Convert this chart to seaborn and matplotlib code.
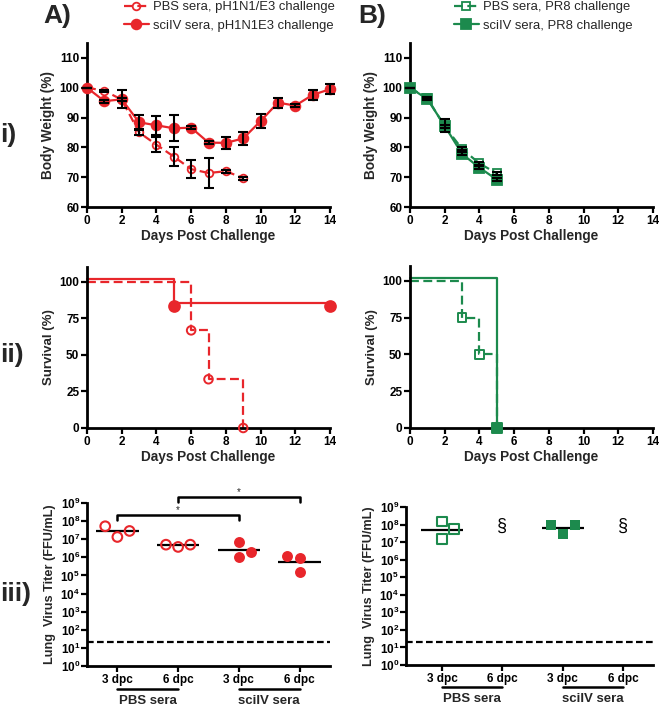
import numpy as np
import matplotlib
matplotlib.use("Agg")
import matplotlib.pyplot as plt
import matplotlib.transforms as mtransforms
import seaborn as sns

# ---- data ----
RED = "#e8262b"
GREEN = "#1c8a4d"

# body weight (% of day 0), mean and SEM
days_a_pbs = [0, 1, 2, 3, 4, 5, 6, 7, 8, 9]
bw_a_pbs = [100, 99.0, 96.0, 85.0, 80.9, 76.9, 72.7, 71.4, 72.0, 69.7]
sem_a_pbs = [0, 0.4, 0.5, 1.0, 2.6, 3.2, 3.0, 5.0, 0.5, 0.5]

days_a_sci = [0, 1, 2, 3, 4, 5, 6, 7, 8, 9, 10, 11, 12, 13, 14]
bw_a_sci = [100, 95.5, 96.1, 88.4, 87.4, 86.4, 86.6, 81.6, 81.5, 83.0, 88.8, 95.0, 94.0, 97.6, 99.5]
sem_a_sci = [0, 0.5, 3.0, 2.6, 3.2, 4.3, 0.5, 0.5, 2.0, 2.2, 2.4, 1.7, 0.5, 1.8, 1.6]

days_b = [0, 1, 2, 3, 4, 5]
bw_b_pbs = [100, 96.5, 87.0, 79.5, 74.6, 71.3]
sem_b_pbs = [0, 0.3, 0.5, 0.5, 0.5, 0.5]
bw_b_sci = [100, 96.2, 87.2, 77.8, 73.2, 69.2]
sem_b_sci = [0, 0.3, 2.2, 0.5, 0.5, 0.5]

# survival (%)
surv_t_a_pbs = [0, 6, 7, 9]
surv_a_pbs = [100, 66.7, 33.3, 0]
surv_t_a_sci = [0, 5, 14]
surv_a_sci = [100, 83.3, 83.3]
surv_t_b_pbs = [0, 3, 4, 5]
surv_b_pbs = [100, 75, 50, 0]
surv_t_b_sci = [0, 5]
surv_b_sci = [100, 0]

# lung titers (FFU/mL)
titer_cats = ["3 dpc", "6 dpc", "3 dpc", "6 dpc"]
titer_groups = ["PBS sera", "sciIV sera"]
titer_a = [[5.2e7, 1.33e7, 2.86e7], [5.0e6, 3.75e6, 5.0e6],
           [6.8e6, 1.05e6, 2.0e6], [1.15e6, 9.3e5, 1.55e5]]
titer_b = [[1.5e8, 1.5e7, 5.6e7], [], [9.8e7, 2.9e7, 9.4e7], []]
detect_limit = 20

legend_a = ["PBS sera, pH1N1/E3 challenge", "sciIV sera, pH1N1E3 challenge"]
legend_b = ["PBS sera, PR8 challenge", "sciIV sera, PR8 challenge"]

# point spread inside each titer column (layout only)
jitter_a = [[-0.2, 0, 0.2], [-0.2, 0, 0.2], [0, 0, 0.2], [-0.2, 0, 0]]
jitter_b = [[0, 0, 0.2], [], [-0.2, 0, 0.2], []]

# ---- style ----
sns.set_theme(style="ticks")
plt.rcParams["font.family"] = ["Liberation Sans", "DejaVu Sans"]
plt.rcParams["font.weight"] = "bold"
plt.rcParams["axes.labelweight"] = "bold"
plt.rcParams["mathtext.fontset"] = "custom"
plt.rcParams["mathtext.rm"] = "Liberation Sans:bold"
plt.rcParams["mathtext.bf"] = "Liberation Sans:bold"
plt.rcParams["mathtext.default"] = "bf"

fig = plt.figure(figsize=(6.6, 7.08), dpi=100)
W, H = 660, 708


def add_ax(left, top, right, bottom):
    return fig.add_axes([left / W, 1 - bottom / H, (right - left) / W, (bottom - top) / H])


def style_ax(ax):
    sns.despine(ax=ax)
    for s in ["left", "bottom"]:
        ax.spines[s].set_linewidth(2)
        ax.spines[s].set_color("black")
    ax.tick_params(direction="out", length=4, width=1.6, labelsize=8.5, pad=1.5, colors="black")
    for lab in ax.get_xticklabels() + ax.get_yticklabels():
        lab.set_fontweight("bold")


def weight_panel(ax, series):
    for days, vals, sem, color, marker, filled, ls, lab in series:
        mfc = color if filled else "none"
        ms = 7 if filled else 5.5
        sns.lineplot(x=days, y=vals, ax=ax, color=color, lw=1.6, linestyle=ls,
                     marker=marker, markersize=ms, markerfacecolor=mfc,
                     markeredgecolor=color, markeredgewidth=1.3, label=lab,
                     clip_on=False, zorder=3, errorbar=None)
        ax.errorbar(days, vals, yerr=sem, fmt="none", ecolor="black",
                    elinewidth=1.5, capsize=3.5, capthick=1.5, zorder=4, clip_on=False)
    ax.set_xlim(0, 14)
    ax.set_ylim(60, 115)
    ax.set_xticks(range(0, 15, 2))
    ax.set_yticks(range(60, 111, 10))
    ax.set_xlabel("Days Post Challenge", fontsize=9.8, labelpad=2)
    ax.set_ylabel("Body Weight (%)", fontsize=9.8, labelpad=3)
    style_ax(ax)


def survival_panel(ax, series):
    for t, s, color, marker, filled, ls, lift in series:
        sns.lineplot(x=t, y=s, ax=ax, color=color, lw=1.6, linestyle=ls,
                     drawstyle="steps-post", clip_on=False, errorbar=None)
        line = ax.lines[-1]
        line.set_transform(mtransforms.offset_copy(ax.transData, fig=fig, x=0, y=lift, units="dots"))
        sns.scatterplot(x=t[1:], y=s[1:], ax=ax, marker=marker, s=60 if filled else 38,
                        color=color, facecolor=color if filled else "none",
                        edgecolor=color, linewidth=1.4, zorder=4, clip_on=False)
    ax.set_xlim(0, 14)
    ax.set_ylim(0, 110)
    ax.set_xticks(range(0, 15, 2))
    ax.set_yticks([0, 25, 50, 75, 100])
    ax.set_xlabel("Days Post Challenge", fontsize=9.8, labelpad=2)
    ax.set_ylabel("Survival (%)", fontsize=9.5, labelpad=3)
    style_ax(ax)


def titer_panel(ax, groups, jitter, color, marker, filled_from, xleft):
    for i, vals in enumerate(groups):
        filled = i >= filled_from
        if len(vals) == 0:
            ax.text(i, 10 ** 7.9, "§", ha="center", va="center", fontsize=13,
                    fontweight="normal", color="black")
            continue
        xs = [i + j for j in jitter[i]]
        sns.scatterplot(x=xs, y=vals, ax=ax, marker=marker, s=62 if filled else 48,
                        color=color, facecolor=color if filled else "none",
                        edgecolor=color, linewidth=0 if filled else 1.5, zorder=3, clip_on=False)
        gm = 10 ** np.mean(np.log10(vals))
        ax.hlines(gm, i - 0.35, i + 0.35, color="black", lw=1.6, zorder=2)
    ax.axhline(detect_limit, color="black", lw=1.6, ls=(0, (3, 1.5)))
    ax.set_yscale("log")
    ax.set_ylim(1, 1e9)
    ax.set_xlim(xleft, 3.5)
    ax.set_yticks([10 ** k for k in range(10)])
    ax.set_yticklabels([f"$10^{{{k}}}$" for k in range(10)])
    ax.minorticks_off()
    ax.set_xticks(range(4))
    ax.set_xticklabels(titer_cats)
    ax.set_ylabel("Lung  Virus Titer (FFU/mL)", fontsize=9.2, labelpad=3)
    style_ax(ax)
    ax.tick_params(axis="y", labelsize=8.5, pad=1)
    ax.tick_params(axis="x", labelsize=8.5, pad=2)
    trans = mtransforms.blended_transform_factory(ax.transData, ax.transAxes)
    for g, name in enumerate(titer_groups):
        a, b = 2 * g, 2 * g + 1
        ax.plot([a, b], [-0.14, -0.14], transform=trans, color="black", lw=1.8, clip_on=False)
        ax.text((a + b) / 2, -0.215, name, transform=trans, ha="center", va="center",
                fontsize=9.5, fontweight="bold")


# ---- row i: body weight ----
ax_a1 = add_ax(87, 43, 330, 207)
weight_panel(ax_a1, [
    (days_a_pbs, bw_a_pbs, sem_a_pbs, RED, "o", False, (0, (4, 2)), legend_a[0]),
    (days_a_sci, bw_a_sci, sem_a_sci, RED, "o", True, "-", legend_a[1]),
])
ax_b1 = add_ax(410, 43, 653, 207)
weight_panel(ax_b1, [
    (days_b, bw_b_pbs, sem_b_pbs, GREEN, "s", False, (0, (4, 2)), legend_b[0]),
    (days_b, bw_b_sci, sem_b_sci, GREEN, "s", True, "-", legend_b[1]),
])

for ax, x0 in [(ax_a1, 124), (ax_b1, 454)]:
    handles, labels = ax.get_legend_handles_labels()
    ax.legend_.remove()
    fig.legend(handles, labels, loc="upper left", bbox_to_anchor=(x0 / W, 1 - 1 / H),
               frameon=False, borderaxespad=0, borderpad=0, handlelength=1.9,
               handletextpad=0.35, labelspacing=0.5,
               prop={"size": 9.4, "weight": "normal"})

# ---- row ii: survival ----
ax_a2 = add_ax(87, 267, 330, 428)
survival_panel(ax_a2, [
    (surv_t_a_pbs, surv_a_pbs, RED, "o", False, (0, (4, 2)), 0),
    (surv_t_a_sci, surv_a_sci, RED, "o", True, "-", 3),
])
ax_b2 = add_ax(410, 266, 653, 428)
survival_panel(ax_b2, [
    (surv_t_b_pbs, surv_b_pbs, GREEN, "s", False, (0, (4, 2)), 0),
    (surv_t_b_sci, surv_b_sci, GREEN, "s", True, "-", 3),
])

# ---- row iii: lung titers ----
ax_a3 = add_ax(87, 503, 330, 666)
titer_panel(ax_a3, titer_a, jitter_a, RED, "o", 2, -0.5)
ax_b3 = add_ax(406, 507, 653, 665)
titer_panel(ax_b3, titer_b, jitter_b, GREEN, "s", 2, -0.6)

# significance brackets in panel A iii
for (i, j), top, drop, star in [((0, 2), 10 ** 8.36, 10 ** 8.05, 10 ** 8.62),
                                ((1, 3), 10 ** 9.33, 10 ** 9.05, 10 ** 9.62)]:
    ax_a3.plot([i, i, j, j], [drop, top, top, drop], color="black", lw=1.8, clip_on=False)
    ax_a3.text((i + j) / 2, star, "*", ha="center", va="center", fontsize=7,
               fontweight="normal")

# ---- panel letters ----
fig.text(57 / W, 1 - 16 / H, "A)", fontsize=19, fontweight="bold", ha="center", va="center")
fig.text(372 / W, 1 - 16 / H, "B)", fontsize=19, fontweight="bold", ha="center", va="center")
fig.text(0, 1 - 135 / H, "i)", fontsize=19, fontweight="bold", ha="left", va="center")
fig.text(0, 1 - 355 / H, "ii)", fontsize=19, fontweight="bold", ha="left", va="center")
fig.text(0, 1 - 594 / H, "iii)", fontsize=19, fontweight="bold", ha="left", va="center")

fig.savefig("out.png", dpi=100)
